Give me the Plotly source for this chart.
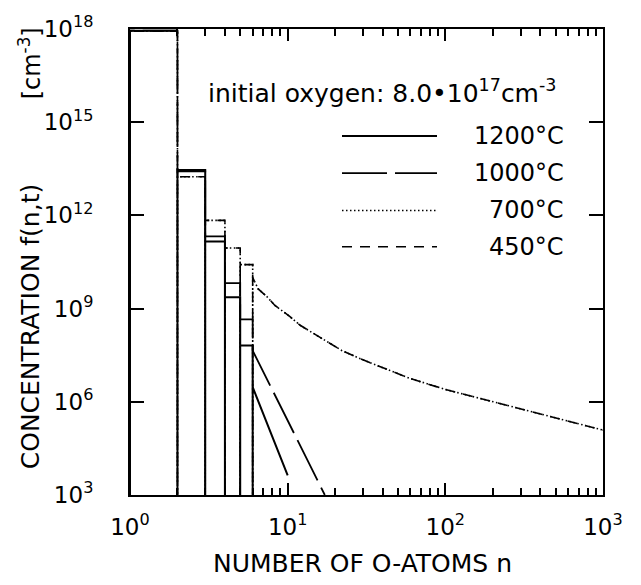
import plotly.graph_objects as go

# ---------------- data ----------------
n_bins = [1, 2, 3, 4, 5]                       # histogram bins [n, n+1]
f1200_bins = [8.8e17, 2.9e13, 1.45e11, 2.3e9, 6.5e7]
f1000_bins = [8.8e17, 2.6e13, 2.1e11, 6.6e9, 4.5e8]
f700_bins = [8.5e17, 1.75e13, 6.9e11, 8.9e10, 2.6e10]
f450_bins = [8.5e17, 1.75e13, 6.9e11, 8.9e10, 2.6e10]

n_tail_1200 = [6, 8, 10]
f_tail_1200 = [2.95e6, 7.4e4, 4.3e3]
n_tail_1000 = [6, 10, 17.2]
f_tail_1000 = [4.4e7, 2.5e5, 1.0e3]
n_tail_low = [6, 6.5, 7.4, 8.3, 10.3, 12, 14, 18, 22, 30, 40, 60, 100, 170, 270, 440, 700, 1000]
f_tail_700 = [1.0e10, 4.3e9, 2.4e9, 1.26e9, 5.6e8, 2.9e8, 1.78e8, 8.3e7, 4.5e7, 2.24e7,
              1.26e7, 5.6e6, 2.5e6, 1.26e6, 6.9e5, 3.7e5, 2.04e5, 1.23e5]
f_tail_450 = [1.0e10, 4.3e9, 2.4e9, 1.26e9, 5.6e8, 2.9e8, 1.78e8, 8.3e7, 4.5e7, 2.24e7,
              1.26e7, 5.6e6, 2.5e6, 1.26e6, 6.9e5, 3.7e5, 2.04e5, 1.23e5]

temps = ["1200°C", "1000°C", "700°C", "450°C"]
x_tickvals = [1, 10, 100, 1000]
x_ticktext = ["10<sup>0</sup>", "10<sup>1</sup>", "10<sup>2</sup>", "10<sup>3</sup>"]
y_tickvals = [1e3, 1e6, 1e9, 1e12, 1e15, 1e18]
y_ticktext = ["10<sup>3</sup>", "10<sup>6</sup>", "10<sup>9</sup>",
              "10<sup>12</sup>", "10<sup>15</sup>", "10<sup>18</sup>"]
FLOOR = 1e3

FONT = "DejaVu Sans"

# ---------------- path builders ----------------
def bars_path(nb, fb, nt, ft):
    """first bin: left edge + top; other bins: full bar outlines down to the floor"""
    xs, ys = [nb[0], nb[0], nb[0] + 1, None], [FLOOR, fb[0], fb[0], None]
    for n, f in zip(nb[1:], fb[1:]):
        xs += [n, n, n + 1, n + 1]
        ys += [FLOOR, f, f, FLOOR]
    xs += [nt[0]] + list(nt)
    ys += [FLOOR] + list(ft)
    return xs, ys

def step_path(nb, fb, nt, ft):
    xs, ys = [nb[0]], [FLOOR]
    for n, f in zip(nb, fb):
        xs += [n, n + 1]
        ys += [f, f]
    xs += list(nt)
    ys += list(ft)
    return xs, ys

def bars_floor_path(nb, fb, nt, ft):
    xs, ys = [nb[0]], [FLOOR]
    for n, f in zip(nb, fb):
        xs += [n, n + 1, n + 1]
        ys += [f, f, FLOOR]
    xs += list(nt)
    ys += list(ft)
    return xs, ys

DASH_1000 = "45px,8px"
DASH_700 = "1.5px,2.5px"
DASH_450 = "10px,8px"

fig = go.Figure()
x, y = bars_path(n_bins, f1200_bins, n_tail_1200, f_tail_1200)
fig.add_trace(go.Scatter(x=x, y=y, mode="lines", name=temps[0],
                         line=dict(color="black", width=2)))
x, y = step_path(n_bins, f1000_bins, n_tail_1000, f_tail_1000)
fig.add_trace(go.Scatter(x=x, y=y, mode="lines", name=temps[1],
                         line=dict(color="black", width=1.8, dash=DASH_1000)))
x, y = bars_floor_path(n_bins, f700_bins, n_tail_low, f_tail_700)
fig.add_trace(go.Scatter(x=x, y=y, mode="lines", name=temps[2],
                         line=dict(color="black", width=1.6, dash=DASH_700)))
x, y = bars_floor_path(n_bins, f450_bins, n_tail_low, f_tail_450)
fig.add_trace(go.Scatter(x=x, y=y, mode="lines", name=temps[3],
                         line=dict(color="black", width=1.6, dash=DASH_450)))

# ---------------- layout ----------------
L, R, T, B = 130, 603, 20, 495
W, H = 641, 585

def px(xp):
    return (xp - L) / (R - L)

def py(yp):
    return (B - yp) / (B - T)

axis_common = dict(type="log", showline=True, linecolor="black", linewidth=2,
                   mirror="ticks", ticks="inside", tickcolor="black", tickwidth=1.5,
                   showgrid=False, zeroline=False,
                   tickfont=dict(family=FONT, size=23, color="black"))

minor_vals = [m * 10 ** d for d in range(3) for m in range(2, 10)]

fig.update_layout(
    width=W, height=H,
    margin=dict(l=L, r=W - R, t=T, b=H - B),
    paper_bgcolor="white", plot_bgcolor="white",
    showlegend=False,
    xaxis=dict(axis_common, range=[0, 3], tickvals=x_tickvals, ticktext=x_ticktext,
               ticklen=12, ticklabelstandoff=10,
               minor=dict(tickvals=minor_vals, ticks="inside", ticklen=7,
                          tickwidth=1.5, tickcolor="black", showgrid=False)),
    yaxis=dict(axis_common, range=[3, 18], tickvals=y_tickvals, ticktext=y_ticktext,
               ticklen=14, ticklabelstandoff=30),
)

ann = []
ann.append(dict(x=px(362), y=py(565), xref="paper", yref="paper",
                text="NUMBER OF O-ATOMS n", showarrow=False,
                font=dict(family=FONT, size=25, color="black"),
                xanchor="center", yanchor="middle"))
ann.append(dict(x=px(30), y=py(324), xref="paper", yref="paper",
                text="CONCENTRATION f(n,t)", showarrow=False, textangle=-90,
                font=dict(family=FONT, size=25, color="black"),
                xanchor="center", yanchor="middle"))
ann.append(dict(x=px(30), y=py(55), xref="paper", yref="paper",
                text="[cm<sup>-3</sup>]", showarrow=False, textangle=-90,
                font=dict(family=FONT, size=24, color="black"),
                xanchor="center", yanchor="middle"))
ann.append(dict(x=px(206), y=py(84), xref="paper", yref="paper",
                text="initial oxygen: 8.0•10<sup>17</sup>cm<sup>-3</sup>",
                showarrow=False, font=dict(family=FONT, size=25, color="black"),
                xanchor="left", yanchor="middle"))

rows_y = [129, 167, 205, 242]
dashes = ["solid", DASH_1000, DASH_700, DASH_450]
widths = [2, 1.8, 1.6, 1.6]
shapes = []
for t, ry, d, w in zip(temps, rows_y, dashes, widths):
    shapes.append(dict(type="line", xref="paper", yref="paper",
                       x0=px(342), x1=px(437), y0=py(ry), y1=py(ry),
                       line=dict(color="black", width=w, dash=d)))
    ann.append(dict(x=px(566), y=py(ry), xref="paper", yref="paper",
                    text=t, showarrow=False,
                    font=dict(family=FONT, size=24, color="black"),
                    xanchor="right", yanchor="middle"))

fig.update_layout(annotations=ann, shapes=shapes)
fig.write_html("out.html")
